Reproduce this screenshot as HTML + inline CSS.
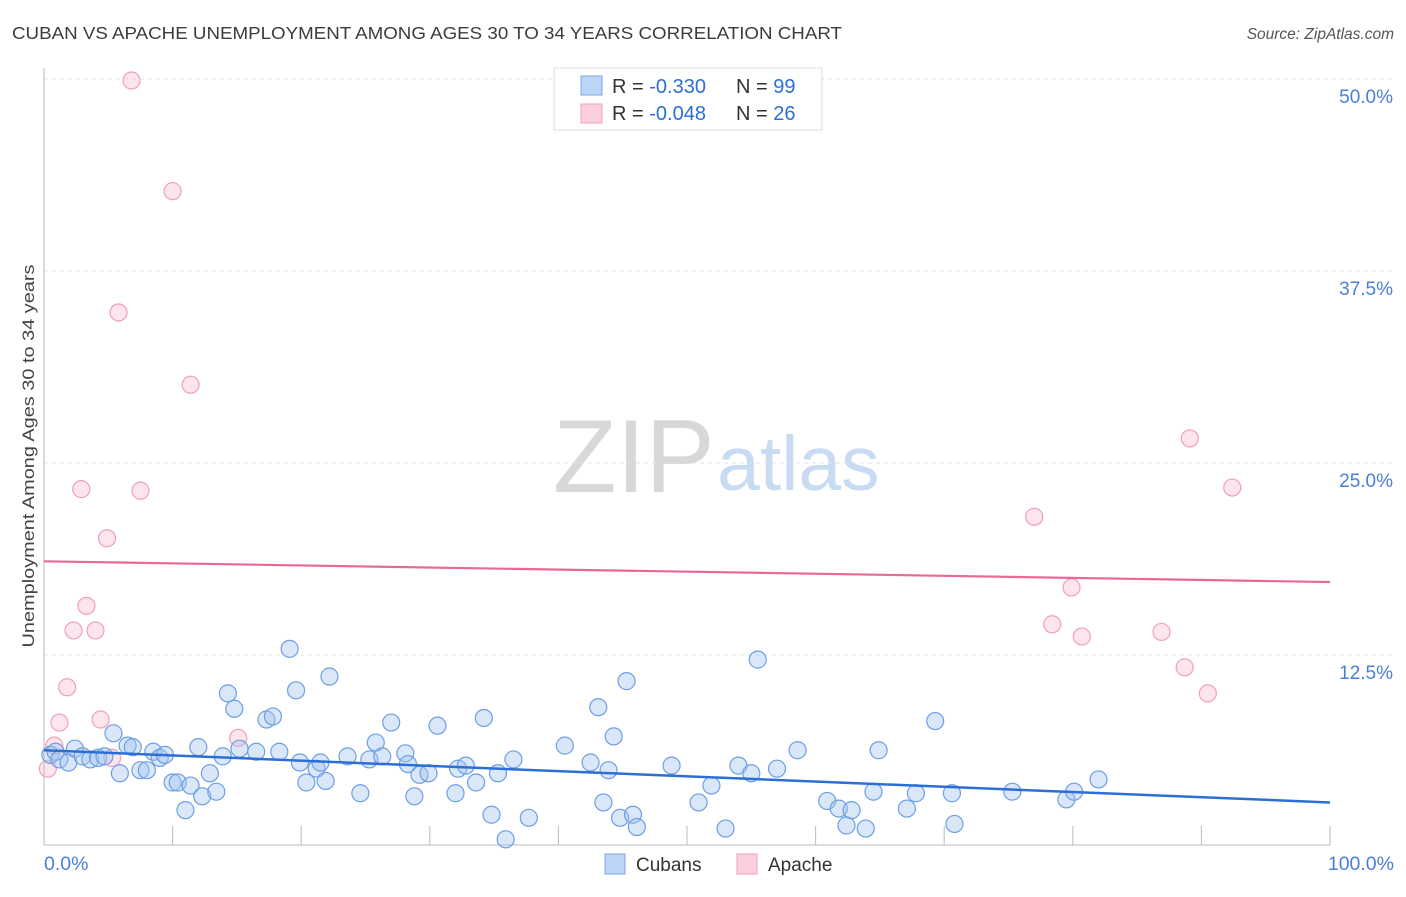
<!DOCTYPE html>
<html><head><meta charset="utf-8"><style>
body{margin:0;background:#fff;font-family:"Liberation Sans",sans-serif;}
svg text{font-family:"Liberation Sans",sans-serif;}
</style></head><body>
<svg id="chart" width="1406" height="892" xmlns="http://www.w3.org/2000/svg">
<text x="12" y="39" font-size="17.5" fill="#3c3c3c" textLength="830" lengthAdjust="spacingAndGlyphs">CUBAN VS APACHE UNEMPLOYMENT AMONG AGES 30 TO 34 YEARS CORRELATION CHART</text>
<text x="1394" y="39" font-size="15.5" fill="#555" font-style="italic" text-anchor="end">Source: ZipAtlas.com</text>
<text x="34" y="456" font-size="17" fill="#444" text-anchor="middle" textLength="383" lengthAdjust="spacingAndGlyphs" transform="rotate(-90 34 456)">Unemployment Among Ages 30 to 34 years</text>
<g>
<text x="553" y="492" font-size="104" fill="#d8d8d8" font-family="Liberation Serif">ZIP</text>
<text x="717" y="490" font-size="77" fill="#c9dbf3">atlas</text>
</g>
<g id="grid"></g><g id="axes"></g><g id="pts"></g><g id="trend"></g>
<g>
<rect x="554" y="68" width="268" height="62" fill="#fff" stroke="#ddd"/>
<rect x="581" y="76" width="21" height="19" fill="#bcd4f6" stroke="#7aaae8"/>
<rect x="581" y="104" width="21" height="19" fill="#fbcfdc" stroke="#f0a0b8"/>
<text x="612" y="93" font-size="20" fill="#333">R = <tspan fill="#2b6fd6">-0.330</tspan></text>
<text x="736" y="93" font-size="20" fill="#333">N = <tspan fill="#2b6fd6">99</tspan></text>
<text x="612" y="120" font-size="20" fill="#333">R = <tspan fill="#2b6fd6">-0.048</tspan></text>
<text x="736" y="120" font-size="20" fill="#333">N = <tspan fill="#2b6fd6">26</tspan></text>
</g>
<g>
<rect x="605" y="854" width="20" height="20" fill="#bcd4f6" stroke="#7aaae8"/>
<text x="636" y="871" font-size="19" fill="#333">Cubans</text>
<rect x="737" y="854" width="20" height="20" fill="#fbcfdc" stroke="#f0a0b8"/>
<text x="768" y="871" font-size="19" fill="#333">Apache</text>
</g>
</svg>
<script>
const yTicks=[12.5,25.0,37.5,50.0];
const yTickLabels=["12.5%","25.0%","37.5%","50.0%"];
const xTickValues=[0,10,20,30,40,50,60,70,80,90,100];
const xEndLabels=["0.0%","100.0%"];
const cubansX=[0.5,0.9,1.2,1.9,2.4,3.0,3.6,4.2,4.7,5.4,5.9,6.5,6.9,7.5,8.0,8.5,9.0,9.4,10.0,10.4,11.0,11.4,12.0,12.3,12.9,13.4,13.9,14.3,14.8,15.2,16.5,17.3,17.8,18.3,19.1,19.6,19.9,20.4,21.2,21.5,21.9,22.2,23.6,24.6,25.3,25.8,26.3,27.0,28.1,28.3,28.8,29.2,29.9,30.6,32.0,32.2,32.8,33.6,34.2,34.8,35.3,35.9,36.5,37.7,40.5,42.5,43.1,43.5,43.9,44.3,44.8,45.3,45.8,46.1,48.8,50.9,51.9,53.0,54.0,55.0,55.5,57.0,58.6,60.9,61.8,62.4,62.8,63.9,64.5,64.9,67.1,67.8,69.3,70.6,70.8,75.3,79.5,80.1,82.0];
const cubansY=[6.0,6.2,5.7,5.5,6.4,5.9,5.7,5.8,5.9,7.4,4.8,6.6,6.5,5.0,5.0,6.2,5.8,6.0,4.2,4.2,2.4,4.0,6.5,3.3,4.8,3.6,5.9,10.0,9.0,6.4,6.2,8.3,8.5,6.2,12.9,10.2,5.5,4.2,5.1,5.5,4.3,11.1,5.9,3.5,5.7,6.8,5.9,8.1,6.1,5.4,3.3,4.7,4.8,7.9,3.5,5.1,5.3,4.2,8.4,2.1,4.8,0.5,5.7,1.9,6.6,5.5,9.1,2.9,5.0,7.2,1.9,10.8,2.1,1.3,5.3,2.9,4.0,1.2,5.3,4.8,12.2,5.1,6.3,3.0,2.5,1.4,2.4,1.2,3.6,6.3,2.5,3.5,8.2,3.5,1.5,3.6,3.1,3.6,4.4];
const apacheX=[0.3,0.8,1.2,1.8,2.3,2.9,3.3,4.0,4.4,4.9,5.3,5.8,6.8,7.5,10.0,11.4,15.1,77.0,78.4,79.9,80.7,86.9,88.7,89.1,90.5,92.4];
const apacheY=[5.1,6.6,8.1,10.4,14.1,23.3,15.7,14.1,8.3,20.1,5.8,34.8,49.9,23.2,42.7,30.1,7.1,21.5,14.5,16.9,13.7,14.0,11.7,26.6,10.0,23.4];
const cubansTrend=[6.3,2.9];
const apacheTrend=[18.6,17.25];
const NS="http://www.w3.org/2000/svg";
const X0=44,X1=1330,Y0=847,PPY=15.36;
const sx=v=>X0+(X1-X0)*v/100, sy=v=>Y0-v*PPY;
function mk(t,a,p){const e=document.createElementNS(NS,t);for(const k in a)e.setAttribute(k,a[k]);document.getElementById(p).appendChild(e);return e;}
yTicks.forEach((t,i)=>{
 const l=mk('line',{x1:X0,x2:1394,y1:sy(t),y2:sy(t),stroke:'#e2e2e2','stroke-dasharray':'4 4'},'grid');
 
 
 const tx=mk('text',{x:1393,y:sy(t)+24,'font-size':19,fill:'#4a7fd8','text-anchor':'end'},'grid');
 tx.textContent=yTickLabels[i];
 
 
});
const ax=mk('line',{x1:X0,x2:X0,y1:68,y2:845,stroke:'#bbb'},'axes');


const bx=mk('line',{x1:X0,x2:X1,y1:845,y2:845,stroke:'#bbb'},'axes');


xTickValues.forEach(v=>{
 const t=mk('line',{x1:sx(v),x2:sx(v),y1:826,y2:845,stroke:'#bbb'},'axes');
 
 
});
[[0,'start',44],[100,'end',1394]].forEach((d,i)=>{
 const t=mk('text',{x:d[2],y:870,'font-size':19.5,fill:'#4a7fd8','text-anchor':d[1]},'axes');
 t.textContent=xEndLabels[i];
 
 
});
function pts(xs,ys,fill,stroke,name){
 xs.forEach((x,i)=>{
  const c=mk('circle',{cx:sx(x),cy:sy(ys[i]),r:8.5,fill:fill,stroke:stroke,'stroke-width':1.2},'pts');
  
  
 });
}
pts(apacheX,apacheY,'rgba(248,180,200,0.35)','#f0a0b8','apache-point');
pts(cubansX,cubansY,'rgba(160,195,240,0.4)','#6d9fe3','cubans-point');
const tb=mk('line',{x1:sx(0),y1:sy(cubansTrend[0]),x2:sx(100),y2:sy(cubansTrend[1]),stroke:'#2b6fd6','stroke-width':2.5},'trend');


const tp=mk('line',{x1:sx(0),y1:sy(apacheTrend[0]),x2:sx(100),y2:sy(apacheTrend[1]),stroke:'#e8689a','stroke-width':2.2},'trend');


</script>
</body></html>
